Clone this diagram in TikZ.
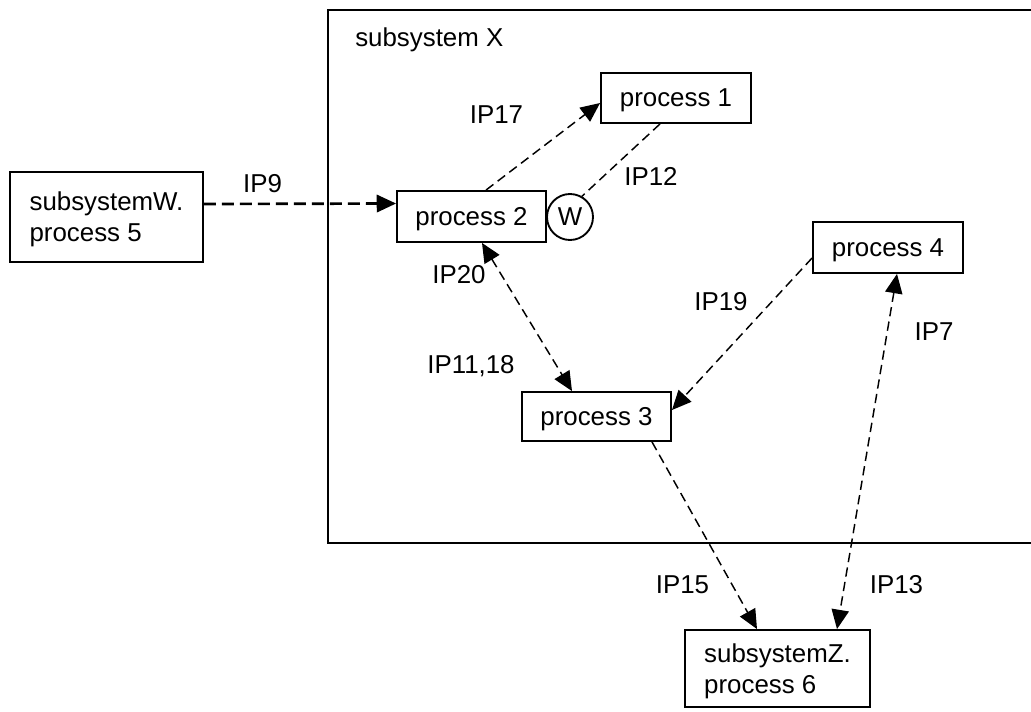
\documentclass[tikz,border=0pt]{standalone}
\usepackage{fontspec}
\setmainfont{Liberation Sans}
\usetikzlibrary{arrows.meta,calc}

\begin{document}
\begin{tikzpicture}[x=0.75pt,y=-0.75pt,
  txt/.style={font=\fontsize{19.4}{23.3}\selectfont},
  procbox/.style={draw, line width=1.4pt, inner sep=0pt, text depth=0pt, txt},
  lbl/.style={inner sep=0pt, anchor=base, txt},
  flow/.style={line width=1.1pt, dash pattern=on 7pt off 4pt},
  thickflow/.style={line width=2pt, dash pattern=on 9pt off 4.5pt},
  headend/.style={-{Triangle[length=14.5pt,width=13pt]}},
  headboth/.style={{Triangle[length=14.5pt,width=13pt]}-{Triangle[length=14.5pt,width=13pt]}},
]
\useasboundingbox (0,0) rectangle (1031,711);
\begin{scope}
\clip (0,0) rectangle (1031,711);

% enclosing subsystem
\node[draw, line width=1.4pt, minimum width=537.75pt, minimum height=399.75pt, inner sep=0pt]
  (sx) at (686.5,276.5) {};
\node[anchor=base west, inner sep=0pt, txt] (sxname) at (355,46) {subsystem X};

% processes
\node[procbox, minimum width=112.5pt, minimum height=37.5pt]  (p1) at (676,98) {process 1};
\node[procbox, minimum width=111.75pt, minimum height=38.25pt] (p2) at (471.5,216.5) {process 2};
\node[procbox, minimum width=111.75pt, minimum height=36.75pt] (p3) at (596.5,416.5) {process 3};
\node[procbox, minimum width=112.5pt, minimum height=38.25pt]  (p4) at (888,247.5) {process 4};
\node[procbox, circle, minimum size=34.5pt] (wc) at (570,217) {W};

% external processes
\node[procbox, align=left, minimum width=144.75pt, minimum height=67.5pt] (p5) at (106.5,217)
  {subsystemW.\\process 5};
\node[procbox, align=left, minimum width=138.75pt, minimum height=57.75pt] (p6) at (777.5,668.5)
  {subsystemZ.\\process 6};

% flows
\draw[thickflow, headend] ($(p5.east)+(0,-13)$) -- ($(p2.west)+(0,-13)$);
\draw[flow, headend] ($(p2.north)+(14.5,0)$) -- ($(p1.west)+(0,5)$);
\draw[flow] ($(p1.south)+(-16,0)$) -- (wc.60);
\draw[flow, headboth] ($(p2.south)+(10.5,0)$) -- ($(p3.north)+(-24.5,0)$);
\draw[flow, headend] ($(p4.west)+(0,10.5)$) -- ($(p3.east)+(0,-6.5)$);
\draw[flow, headend] ($(p3.south)+(55.5,0)$) -- ($(p6.north)+(-20.5,0)$);
\draw[flow, headboth] ($(p4.south)+(9,0)$) -- ($(p6.north)+(59.5,0)$);

% flow labels
\node[lbl] (l9)  at (262.5,192) {IP9};
\node[lbl] (l17) at (496.5,123) {IP17};
\node[lbl] (l12) at (651,185) {IP12};
\node[lbl] (l20) at (459,283) {IP20};
\node[lbl] (l11) at (471,373) {IP11,18};
\node[lbl] (l19) at (721,310) {IP19};
\node[lbl] (l7)  at (934,340) {IP7};
\node[lbl] (l15) at (682.5,593) {IP15};
\node[lbl] (l13) at (896.5,593) {IP13};
\end{scope}
\end{tikzpicture}
\end{document}
